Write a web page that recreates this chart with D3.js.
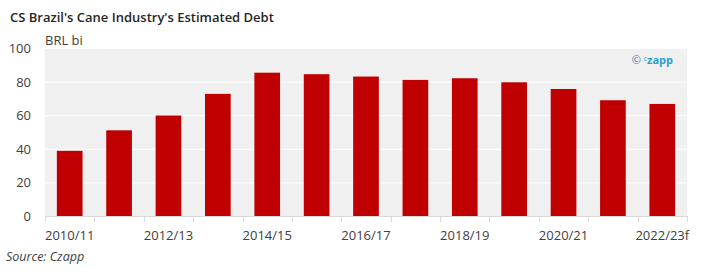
<!DOCTYPE html>
<html><head><meta charset="utf-8">
<script src="https://cdn.jsdelivr.net/npm/d3@7"></script>
<style>body{margin:0;background:#fff;}svg{display:block;font-family:"Open Sans",sans-serif;}</style>
</head><body>
<svg id="c" width="709" height="277"></svg>
<script>
const categories = ["2010/11","2011/12","2012/13","2013/14","2014/15","2015/16","2016/17","2017/18","2018/19","2019/20","2020/21","2021/22","2022/23f"];
const values = [38.8, 51.0, 59.8, 72.7, 85.3, 84.4, 83.0, 81.0, 82.0, 79.6, 75.6, 68.9, 66.7];
const yTicks = [0, 20, 40, 60, 80, 100];
const xTickLabels = ["2010/11","2012/13","2014/15","2016/17","2018/19","2020/21","2022/23f"];
const title = "CS Brazil's Cane Industry's Estimated Debt";
const unit = "BRL bi";
const source = "Source: Czapp";

const svg = d3.select("#c");
const L = 45, R = 687, T = 48, B = 216;
const x = d3.scaleBand().domain(categories).range([L, R]).paddingInner(0.48).paddingOuter(0.24);
const xb = d3.scaleBand().domain(categories).range([L, R]);
const y = d3.scaleLinear().domain([0, 100]).range([B, T]);

svg.append("rect").attr("x", L).attr("y", T).attr("width", R - L).attr("height", B - T).attr("fill", "#f0f0f0");
svg.append("g").selectAll("line").data(yTicks.filter(d => d > 0)).join("line")
  .attr("x1", L).attr("x2", R).attr("y1", d => y(d) + 0.5).attr("y2", d => y(d) + 0.5)
  .attr("stroke", "#fff").attr("stroke-width", 1);

svg.append("g").selectAll("rect").data(categories).join("rect")
  .attr("x", d => x(d)).attr("width", x.bandwidth())
  .attr("y", (d, i) => y(values[i])).attr("height", (d, i) => B - y(values[i]))
  .attr("fill", "#c00000");

// baseline and ticks
svg.append("line").attr("x1", L).attr("x2", R).attr("y1", B + 0.5).attr("y2", B + 0.5).attr("stroke", "#d9d9d9");
svg.append("g").selectAll("line").data(categories.concat(["_end"])).join("line")
  .attr("x1", (d, i) => Math.round(L + i * xb.step()) + 0.5).attr("x2", (d, i) => Math.round(L + i * xb.step()) + 0.5)
  .attr("y1", B).attr("y2", B + 6).attr("stroke", "#d9d9d9");

// y labels
svg.append("g").selectAll("text").data(yTicks).join("text")
  .attr("x", 31).attr("y", d => y(d) + 5).attr("text-anchor", "end")
  .attr("font-size", 13).attr("fill", "#404040").text(d => d);

// x labels
svg.append("g").selectAll("text").data(xTickLabels).join("text")
  .attr("x", d => xb(d) + xb.bandwidth() / 2).attr("y", 240).attr("text-anchor", "middle")
  .attr("font-size", 13).attr("fill", "#404040").text(d => d);

svg.append("text").attr("x", 10).attr("y", 22).attr("font-size", 13).attr("font-weight", 600)
  .attr("fill", "#262626").text(title);
svg.append("text").attr("x", 45).attr("y", 45).attr("font-size", 13).attr("fill", "#404040").text(unit);
svg.append("text").attr("x", 6).attr("y", 261).attr("font-size", 12.5).attr("font-style", "italic")
  .attr("fill", "#404040").text(source);

// logo
const lg = svg.append("text").attr("x", 673).attr("y", 64).attr("text-anchor", "end").attr("fill", "#2a9fd6");
lg.append("tspan").attr("font-size", 11).attr("fill", "#4a78a8").text("© ");
lg.append("tspan").attr("font-size", 7).attr("dy", -3).text("c");
lg.append("tspan").attr("font-size", 11).attr("dy", 3).attr("font-weight", "bold").text("zapp");
</script>
</body></html>
